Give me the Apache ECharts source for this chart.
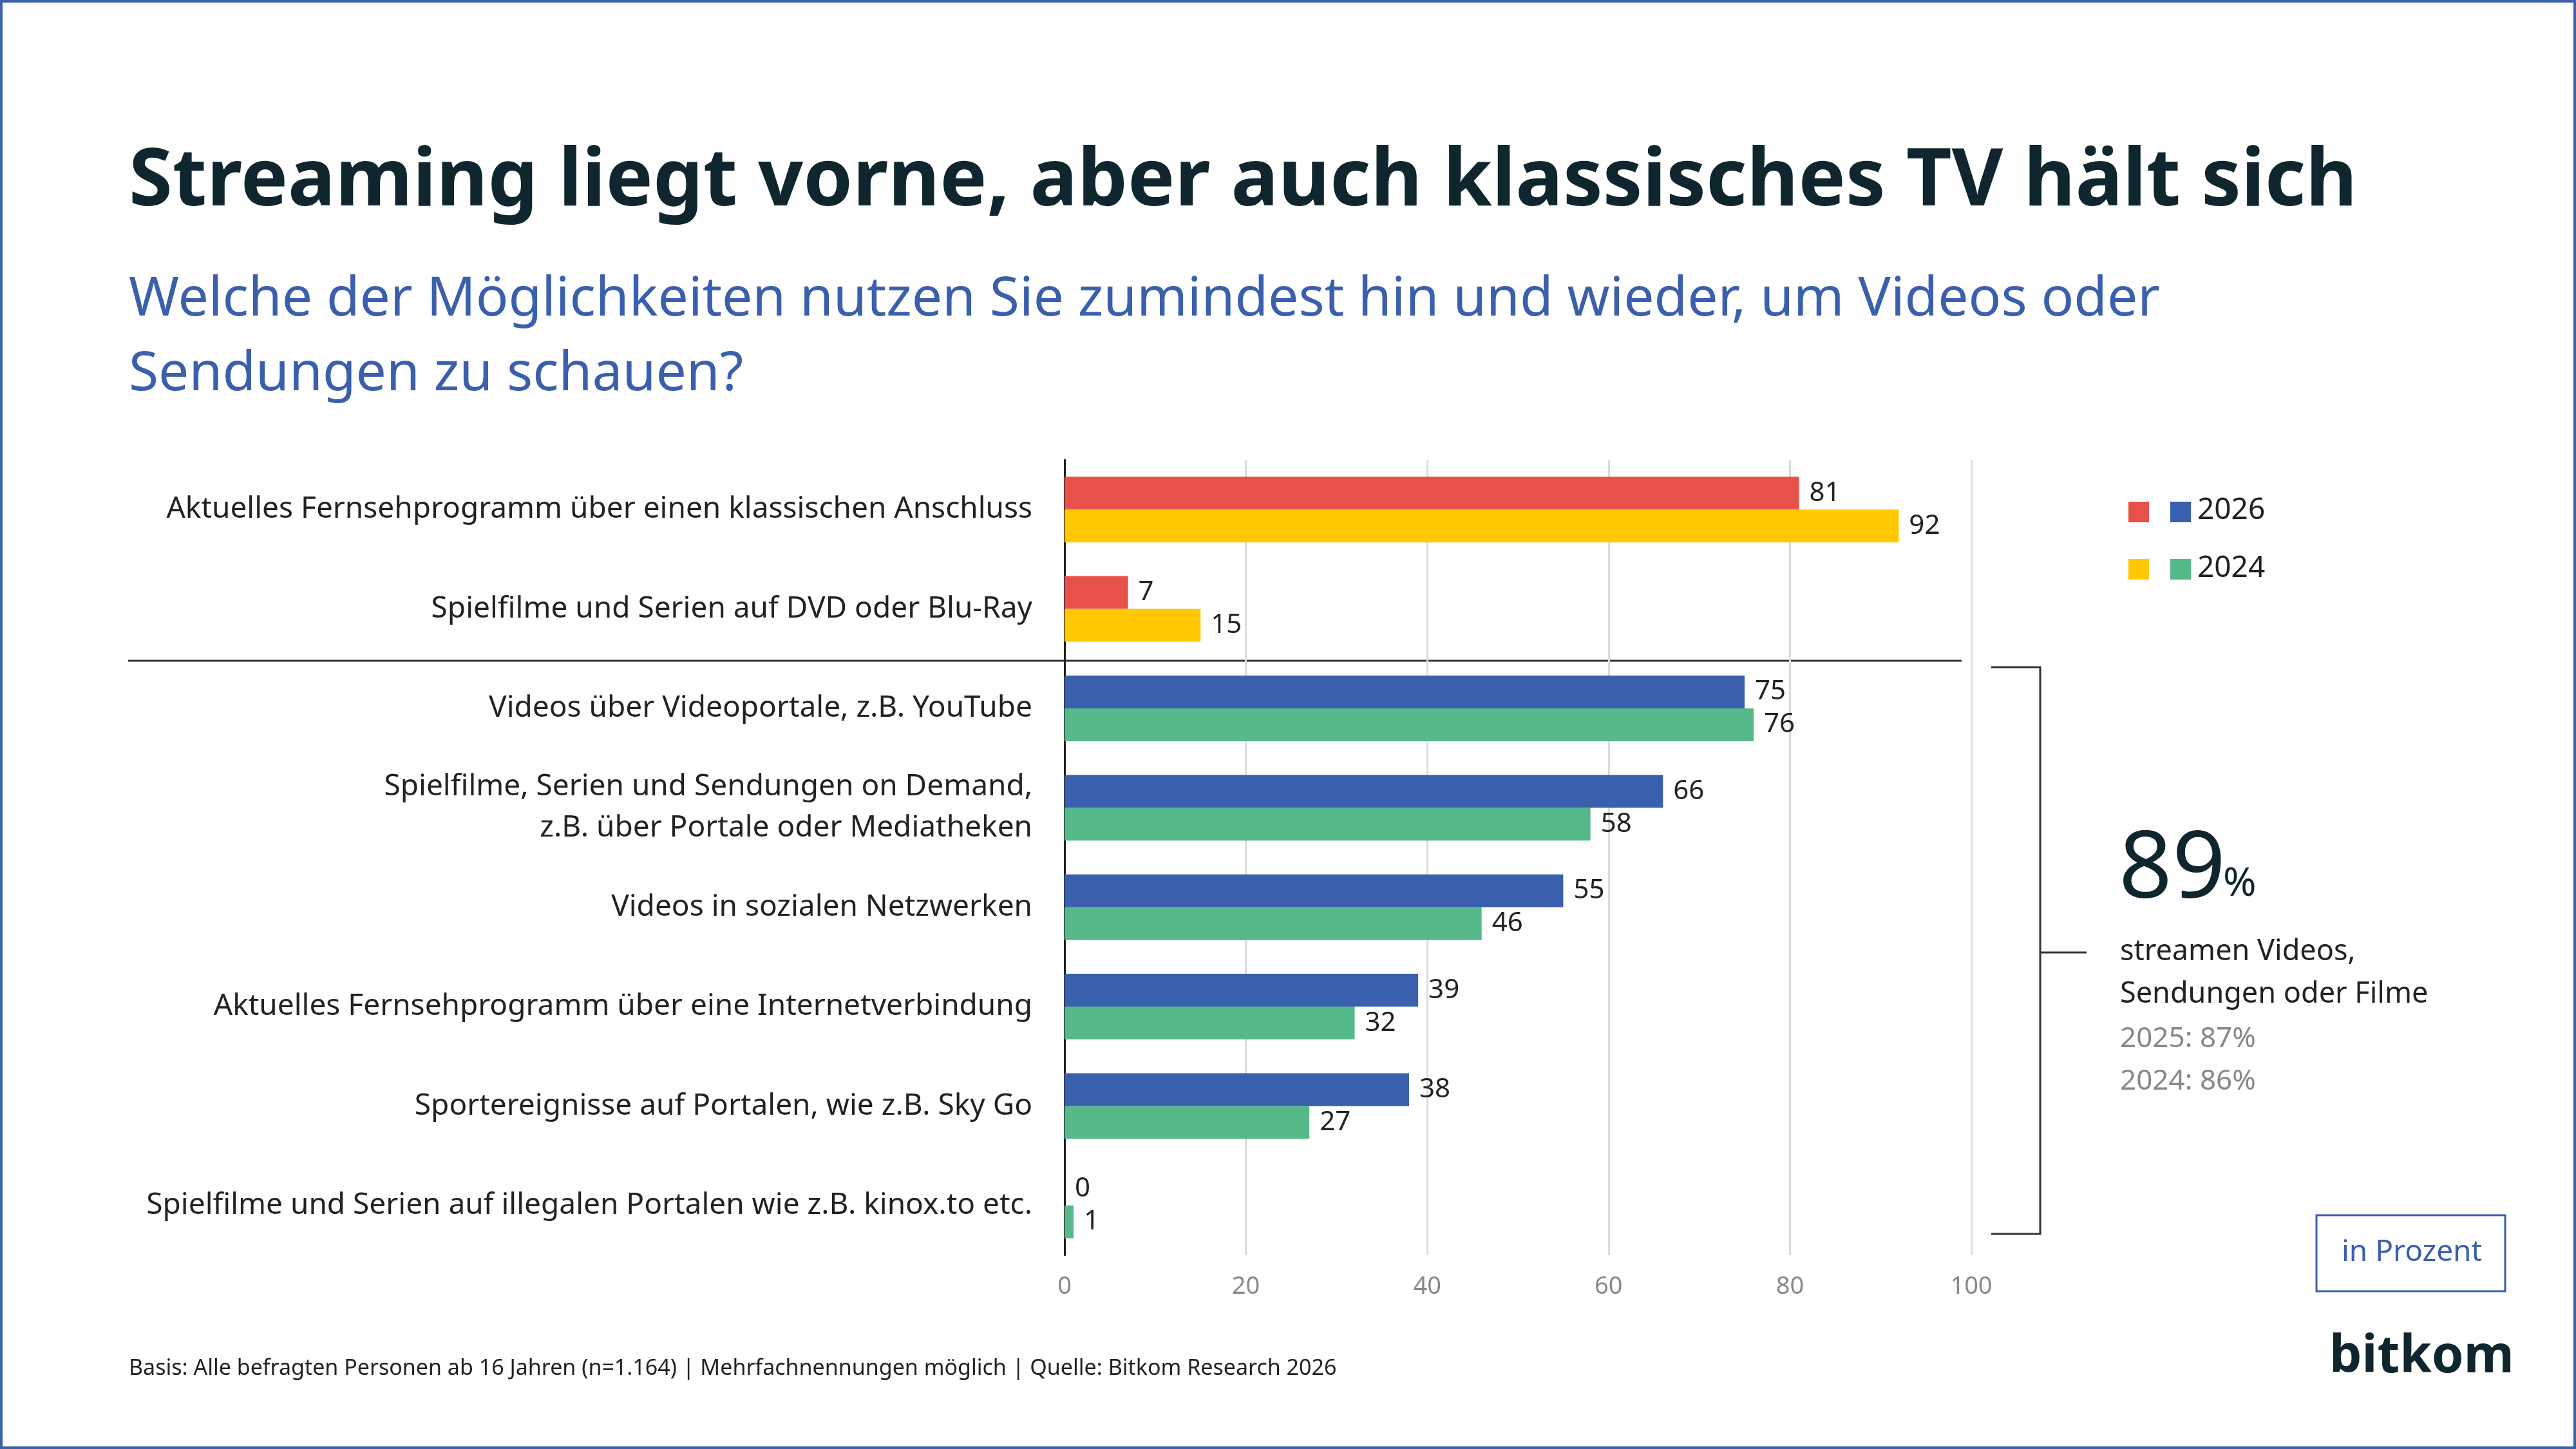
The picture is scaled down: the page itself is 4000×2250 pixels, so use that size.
<!DOCTYPE html>
<html>
<head>
<meta charset="utf-8">
<script src="https://cdn.jsdelivr.net/npm/echarts@6/dist/echarts.min.js"></script>
<style>
  html, body { margin: 0; padding: 0; background: #fff; }
  #chart { width: 4000px; height: 2250px; }
</style>
</head>
<body>
<div id="chart"></div>
<script>
var kategorien = [
  'Aktuelles Fernsehprogramm über einen klassischen Anschluss',
  'Spielfilme und Serien auf DVD oder Blu-Ray',
  'Videos über Videoportale, z.B. YouTube',
  'Spielfilme, Serien und Sendungen on Demand,\nz.B. über Portale oder Mediatheken',
  'Videos in sozialen Netzwerken',
  'Aktuelles Fernsehprogramm über eine Internetverbindung',
  'Sportereignisse auf Portalen, wie z.B. Sky Go',
  'Spielfilme und Serien auf illegalen Portalen wie z.B. kinox.to etc.'
];
var werte2026 = [81, 7, 75, 66, 55, 39, 38, 0];
var werte2024 = [92, 15, 76, 58, 46, 32, 27, 1];

var font = 'Noto Sans';
var dunkel = '#10262e';
var blau = '#3a5fad';

function einfaerben(werte, klassisch, streaming) {
  return werte.map(function(v, i) {
    return { value: v, itemStyle: { color: i < 2 ? klassisch : streaming } };
  });
}

var chart = echarts.init(document.getElementById('chart'));

var labelStyle = { show: true, position: 'right', distance: 16, fontSize: 42, color: '#222', fontFamily: font };

chart.setOption({
  animation: false,
  grid: { left: 1653, right: 939, top: 714, height: 1235 },
  xAxis: {
    type: 'value', min: 0, max: 100, interval: 20,
    axisLabel: { fontSize: 38, color: '#888', fontFamily: font, margin: 30 },
    splitLine: { lineStyle: { color: '#dcdcdc', width: 3 } },
    axisLine: { show: false }, axisTick: { show: false }
  },
  yAxis: {
    type: 'category', inverse: true, data: kategorien,
    axisLine: { lineStyle: { color: '#222', width: 3 } },
    axisTick: { show: false },
    axisLabel: { fontSize: 46, color: '#222', fontFamily: font, margin: 50, lineHeight: 64, align: 'right' }
  },
  series: [
    {
      name: '2026', type: 'bar', barWidth: 51, barGap: '0%',
      data: einfaerben(werte2026, '#e8504a', blau),
      label: labelStyle
    },
    {
      name: '2024', type: 'bar', barWidth: 51,
      data: einfaerben(werte2024, '#ffc800', '#55b98a'),
      label: labelStyle
    }
  ],
  graphic: [
    { type: 'rect', shape: { x: 2, y: 2, width: 3996, height: 2246 }, style: { fill: 'none', stroke: blau, lineWidth: 4 } },
    { type: 'text', left: 200, top: 222, style: { text: 'Streaming liegt vorne, aber auch klassisches TV hält sich', font: 'bold 123px "Noto Sans"', fill: dunkel } },
    { type: 'text', left: 200, top: 408, style: { text: 'Welche der Möglichkeiten nutzen Sie zumindest hin und wieder, um Videos oder\nSendungen zu schauen?', font: '84px "Noto Sans"', fill: blau, lineHeight: 116 } },
    { type: 'line', shape: { x1: 199, y1: 1026, x2: 3046, y2: 1026 }, style: { stroke: '#333', lineWidth: 3 } },
    // Legende
    { type: 'rect', shape: { x: 3305, y: 779, width: 32, height: 32 }, style: { fill: '#e8504a' } },
    { type: 'rect', shape: { x: 3370, y: 779, width: 32, height: 32 }, style: { fill: blau } },
    { type: 'text', left: 3412, top: 770, style: { text: '2026', font: '46px "Noto Sans"', fill: '#222' } },
    { type: 'rect', shape: { x: 3305, y: 868, width: 32, height: 32 }, style: { fill: '#ffc800' } },
    { type: 'rect', shape: { x: 3370, y: 868, width: 32, height: 32 }, style: { fill: '#55b98a' } },
    { type: 'text', left: 3412, top: 860, style: { text: '2024', font: '46px "Noto Sans"', fill: '#222' } },
    // Klammer
    { type: 'polyline', shape: { points: [[3092, 1036], [3168, 1036], [3168, 1916], [3092, 1916]] }, style: { stroke: '#333', lineWidth: 3, fill: 'none' } },
    { type: 'line', shape: { x1: 3168, y1: 1479, x2: 3240, y2: 1479 }, style: { stroke: '#333', lineWidth: 3 } },
    { type: 'text', left: 3290, top: 1280, style: { text: '89', font: '145px "Noto Sans"', fill: dunkel } },
    { type: 'text', left: 3452, top: 1342, style: { text: '%', font: '62px "Noto Sans"', fill: dunkel } },
    { type: 'text', left: 3292, top: 1445, style: { text: 'streamen Videos,\nSendungen oder Filme', font: '45px "Noto Sans"', fill: '#222', lineHeight: 66 } },
    { type: 'text', left: 3292, top: 1580, style: { text: '2025: 87%\n2024: 86%', font: '44px "Noto Sans"', fill: '#888', lineHeight: 66 } },
    // in Prozent
    { type: 'rect', shape: { x: 3597, y: 1887, width: 293, height: 118 }, style: { fill: 'none', stroke: blau, lineWidth: 3 } },
    { type: 'text', left: 3636, top: 1922, style: { text: 'in Prozent', font: '46px "Noto Sans"', fill: blau } },
    // Fusszeile
    { type: 'text', left: 200, top: 2108, style: { text: 'Basis: Alle befragten Personen ab 16 Jahren (n=1.164) | Mehrfachnennungen möglich | Quelle: Bitkom Research 2026', font: '34px "Noto Sans"', fill: '#222' } },
    { type: 'text', left: 3617, top: 2068, style: { text: 'bitkom', font: 'bold 80px "Noto Sans"', fill: dunkel } }
  ]
});
</script>
</body>
</html>
